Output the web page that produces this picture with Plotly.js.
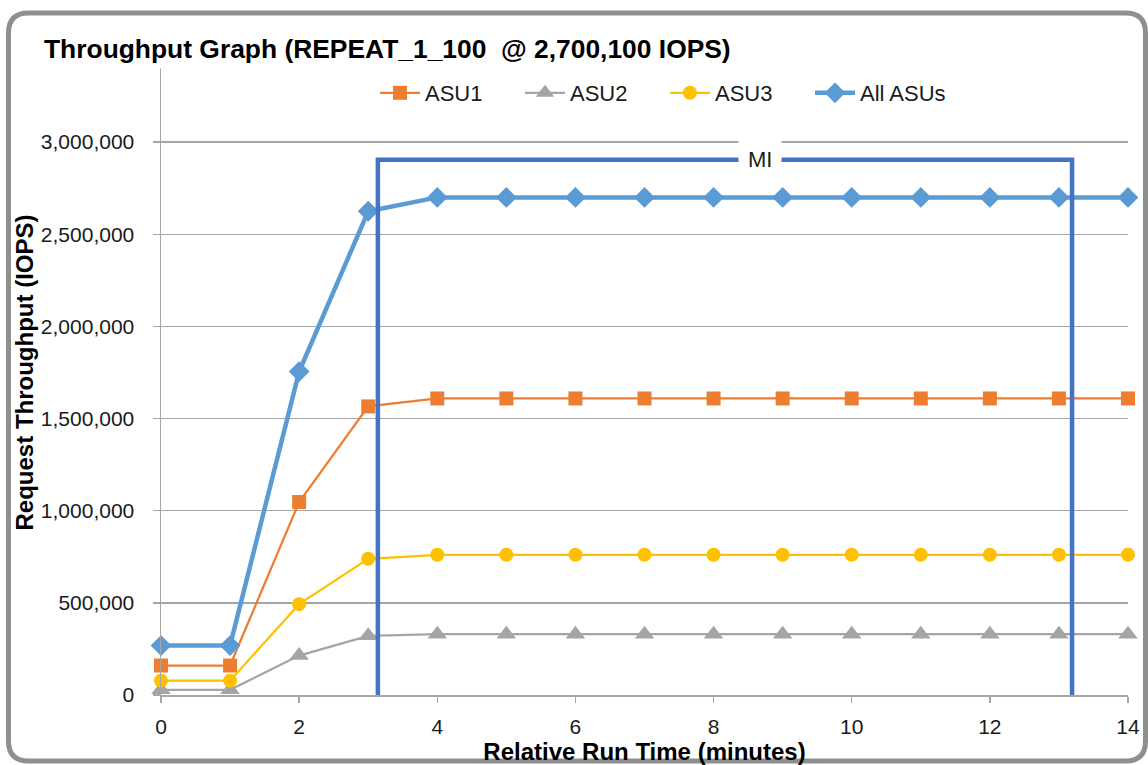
<!DOCTYPE html>
<html>
<head>
<meta charset="utf-8">
<script src="https://cdn.plot.ly/plotly-3.0.1.min.js"></script>
<style>
  html, body { margin: 0; padding: 0; background: #ffffff; }
  #chart { width: 1148px; height: 765px; }
</style>
</head>
<body>
<div id="chart"></div>
<script>
// ---- Data ----
const minutes = [0, 1, 2, 3, 4, 5, 6, 7, 8, 9, 10, 11, 12, 13, 14];
const asu1 = [160000, 160000, 1047000, 1566000, 1609100, 1609100, 1609100, 1609100, 1609100, 1609100, 1609100, 1609100, 1609100, 1609100, 1609100];
const asu2 = [28000, 28000, 214000, 321000, 330000, 330000, 330000, 330000, 330000, 330000, 330000, 330000, 330000, 330000, 330000];
const asu3 = [78000, 78000, 493000, 739000, 761000, 761000, 761000, 761000, 761000, 761000, 761000, 761000, 761000, 761000, 761000];
const allAsus = [268000, 268000, 1755000, 2625000, 2700100, 2700100, 2700100, 2700100, 2700100, 2700100, 2700100, 2700100, 2700100, 2700100, 2700100];
const seriesNames = ["ASU1", "ASU2", "ASU3", "All ASUs"];

// Measurement interval (MI) bracket
const miStart = 3.14;
const miEnd = 13.19;
const miTop = 2905000;
const miLabel = "MI";
const miLabelX = 8.67;

// Axis ticks
const yTickVals = [0, 500000, 1000000, 1500000, 2000000, 2500000, 3000000, 3500000];
const yTickText = ["0", "500,000", "1,000,000", "1,500,000", "2,000,000", "2,500,000", "3,000,000", ""];
const xTickVals = [0, 2, 4, 6, 8, 10, 12, 14];

const titleText = "Throughput Graph (REPEAT_1_100  @ 2,700,100 IOPS)";
const xTitle = "Relative Run Time (minutes)";
const yTitle = "Request Throughput (IOPS)";

// ---- Layout helpers (pixel -> paper) ----
const M = { l: 161, r: 20, t: 50, b: 70 };
const W = 1148 - M.l - M.r, H = 765 - M.t - M.b;
const px = X => (X - M.l) / W;
const py = Y => (M.t + H - Y) / H;

function roundedRectPath(x0, y0, x1, y1, r) {
  const P = (X, Y) => px(X).toFixed(5) + "," + py(Y).toFixed(5);
  return "M" + P(x0 + r, y0) +
    " L" + P(x1 - r, y0) + " Q" + P(x1, y0) + " " + P(x1, y0 + r) +
    " L" + P(x1, y1 - r) + " Q" + P(x1, y1) + " " + P(x1 - r, y1) +
    " L" + P(x0 + r, y1) + " Q" + P(x0, y1) + " " + P(x0, y1 - r) +
    " L" + P(x0, y0 + r) + " Q" + P(x0, y0) + " " + P(x0 + r, y0) + " Z";
}

const FONT = "Liberation Sans, Arial, sans-serif";

const traces = [
  {
    x: minutes, y: asu1, name: seriesNames[0], type: "scatter", mode: "lines+markers",
    line: { color: "#ED7D31", width: 2.25 },
    marker: { symbol: "square", size: 14, color: "#ED7D31" },
    cliponaxis: false
  },
  {
    x: minutes, y: asu2, name: seriesNames[1], type: "scatter", mode: "lines+markers",
    line: { color: "#A5A5A5", width: 2.25 },
    marker: { symbol: "triangle-up", size: 17, color: "#A5A5A5" },
    cliponaxis: false
  },
  {
    x: minutes, y: asu3, name: seriesNames[2], type: "scatter", mode: "lines+markers",
    line: { color: "#FFC000", width: 2.25 },
    marker: { symbol: "circle", size: 14, color: "#FFC000" },
    cliponaxis: false
  },
  {
    x: minutes, y: allAsus, name: seriesNames[3], type: "scatter", mode: "lines+markers",
    line: { color: "#5B9BD5", width: 4.5 },
    marker: { symbol: "diamond", size: 16, color: "#5B9BD5" },
    cliponaxis: false
  },
  {
    x: [miStart, miStart, miEnd, miEnd], y: [0, miTop, miTop, 0],
    type: "scatter", mode: "lines", showlegend: false, hoverinfo: "skip",
    line: { color: "#4472C4", width: 4.5 },
    cliponaxis: false
  }
];

const layout = {
  width: 1148, height: 765,
  margin: M,
  paper_bgcolor: "#ffffff", plot_bgcolor: "#ffffff",
  font: { family: FONT, color: "#1a1a1a", size: 21 },
  showlegend: true,
  hovermode: false,
  legend: {
    orientation: "h", x: px(665), xanchor: "center", y: py(93), yanchor: "middle",
    font: { family: FONT, size: 22, color: "#1a1a1a" },
    bgcolor: "rgba(255,255,255,0)", itemwidth: 40,
    entrywidth: 90, entrywidthmode: "pixels", traceorder: "normal"
  },
  xaxis: {
    range: [0, 14], tickvals: xTickVals, ticktext: xTickVals.map(String),
    showgrid: false, zeroline: false,
    showline: true, linecolor: "#a6a6a6", linewidth: 1.5,
    ticks: "outside", ticklen: 6, tickcolor: "#a6a6a6", tickwidth: 1.5,
    ticklabelstandoff: 6,
    tickfont: { family: FONT, size: 21, color: "#1a1a1a" },
    title: { text: "<b>" + xTitle + "</b>", font: { family: FONT, size: 24, color: "#000" }, standoff: 8 }
  },
  yaxis: {
    range: [0, 3500000], tickvals: yTickVals, ticktext: yTickText,
    showgrid: true, gridcolor: "#a6a6a6", gridwidth: 1.3, zeroline: false,
    showline: true, linecolor: "#a6a6a6", linewidth: 1.5,
    ticks: "outside", ticklen: 7, tickcolor: "#a6a6a6", tickwidth: 1.5,
    ticklabelstandoff: 14,
    tickfont: { family: FONT, size: 21, color: "#1a1a1a" },
    title: { text: "<b>" + yTitle + "</b>", font: { family: FONT, size: 24, color: "#000" }, standoff: 0 }
  },
  shapes: [
    {
      type: "path", xref: "paper", yref: "paper", layer: "above",
      path: roundedRectPath(8.5, 13, 1145.5, 761, 20),
      line: { color: "#8f8f8f", width: 5 }, fillcolor: "rgba(0,0,0,0)"
    }
  ],
  annotations: [
    {
      text: "<b>" + titleText + "</b>", xref: "paper", yref: "paper",
      x: px(39), xanchor: "left", y: py(49), yanchor: "middle",
      showarrow: false, bgcolor: "#ffffff", borderpad: 4,
      font: { family: FONT, size: 26.4, color: "#000" }
    },
    {
      text: miLabel, xref: "x", yref: "y", x: miLabelX, y: miTop,
      xanchor: "center", yanchor: "middle", showarrow: false,
      bgcolor: "#ffffff", borderpad: 9,
      font: { family: FONT, size: 22, color: "#1a1a1a" }
    }
  ]
};

Plotly.newPlot("chart", traces, layout, { displayModeBar: false, staticPlot: true });
</script>
</body>
</html>
